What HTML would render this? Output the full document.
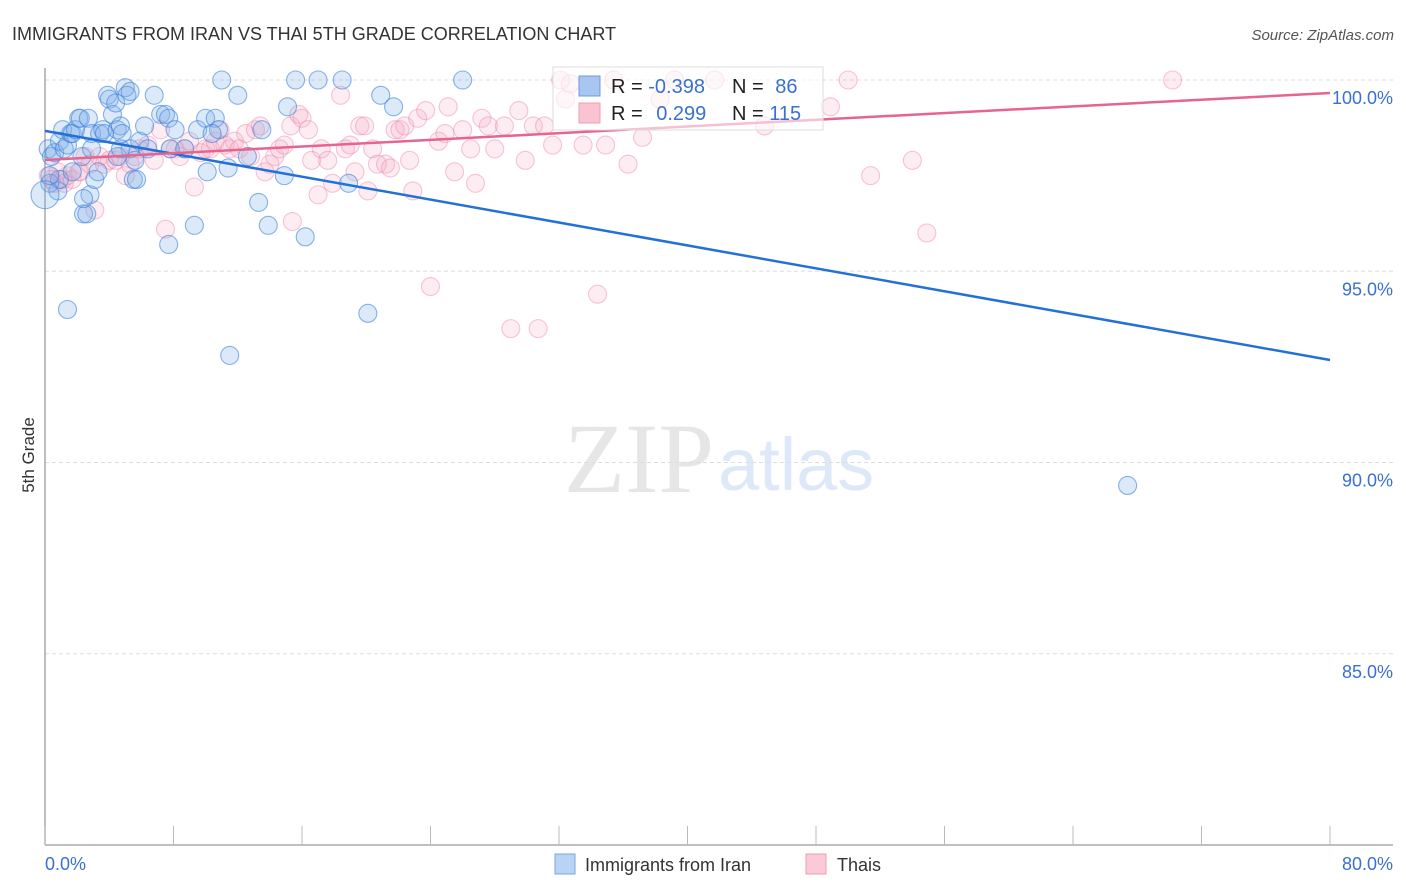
<!DOCTYPE html>
<html><head><meta charset="utf-8"><style>
body{margin:0;background:#fff;font-family:"Liberation Sans",sans-serif;}
#wrap{position:relative;width:1406px;height:892px;overflow:hidden;}
</style></head><body>
<div id="wrap">
<svg id="chart" width="1406" height="892" xmlns="http://www.w3.org/2000/svg">
<text x="12" y="40" font-size="18" fill="#333">IMMIGRANTS FROM IRAN VS THAI 5TH GRADE CORRELATION CHART</text>
<text x="1394" y="40" font-size="15" fill="#555" font-style="italic" text-anchor="end">Source: ZipAtlas.com</text>
<text x="714" y="492" font-size="100" fill="#e6e6e6" font-family="Liberation Serif,serif" text-anchor="end">ZIP</text>
<text x="718" y="490" font-size="74" fill="#dde9f8">atlas</text>
<text transform="translate(34,455) rotate(-90)" font-size="17" fill="#333" text-anchor="middle">5th Grade</text>
<g id="grid"></g><g id="axes"></g><g id="pts"></g><g id="lines"></g>
<g>
<rect x="553" y="67" width="270" height="63" fill="#fff" fill-opacity="0.6" stroke="#ddd"/>
<rect x="579" y="76" width="21" height="20" fill="#a9c6f0" stroke="#6d9be0"/>
<rect x="579" y="103" width="21" height="20" fill="#f9c3d2" stroke="#ee9fb6"/>
<text x="611" y="93" font-size="20" fill="#222">R = <tspan fill="#3a70d0">-0.398</tspan></text>
<text x="732" y="93" font-size="20" fill="#222">N = <tspan fill="#3a70d0" dx="6">86</tspan></text>
<text x="611" y="120" font-size="20" fill="#222">R = <tspan fill="#3a70d0" dx="8">0.299</tspan></text>
<text x="732" y="120" font-size="20" fill="#222">N = <tspan fill="#3a70d0">115</tspan></text>
</g>
<g>
<rect x="555" y="854" width="20" height="20" fill="#b9d3f5" stroke="#7aa5e3"/>
<text x="585" y="871" font-size="18" fill="#333">Immigrants from Iran</text>
<rect x="806" y="854" width="20" height="20" fill="#fbc9d7" stroke="#ef9fb5"/>
<text x="837" y="871" font-size="18" fill="#333">Thais</text>
</g>
</svg>
</div>
<script>
const xTickLabels=["0.0%","80.0%"];
const yTicks=[100,95,90,85];
const yTickLabels=["100.0%","95.0%","90.0%","85.0%"];
const iranX=[0.2,0.4,0.6,0.8,0.3,0.9,1.1,1.2,1.4,1.6,1.7,1.9,2.1,2.2,2.3,2.4,2.6,2.7,2.8,2.9,3.1,3.3,3.4,3.6,3.7,3.9,4.0,4.2,4.4,4.5,4.7,4.8,5.0,5.1,5.3,5.3,5.5,5.6,5.7,5.9,6.2,6.8,7.2,7.5,7.7,7.7,7.8,8.1,8.7,9.3,9.5,10.0,10.1,10.6,10.8,11.0,11.4,11.5,12.0,12.6,13.3,13.5,13.9,14.9,15.1,15.6,16.2,17.0,18.5,18.9,20.1,20.9,21.7,26.0,67.4,1.4,2.4,0.9,0.3,1.7,4.5,4.7,6.4,10.4,2.9,0.0];
const iranY=[98.2,98.0,98.1,97.1,97.3,98.4,98.7,98.2,98.3,98.6,98.6,98.7,99.0,99.0,98.0,96.5,96.5,99.0,97.0,98.6,97.4,97.6,98.6,98.7,98.6,99.6,99.5,99.1,99.4,98.7,98.8,98.6,99.8,99.6,99.7,98.2,97.4,97.9,97.4,98.4,98.8,99.6,99.1,99.1,99.0,95.7,98.2,98.7,98.2,96.2,98.7,99.0,97.6,99.0,98.7,100,97.7,92.8,99.6,98.0,96.8,98.7,96.2,97.5,99.3,100,95.9,100,100,97.3,93.9,99.6,99.3,100,89.4,94.0,96.9,97.4,97.5,97.6,98.0,98.2,98.2,98.6,98.2,97.0];
const thaiX=[0.2,0.4,0.6,0.8,1.1,1.2,1.4,1.7,2.1,2.2,2.5,2.8,3.1,3.4,3.7,4.0,4.4,4.7,5.0,5.3,5.6,5.9,6.4,6.8,7.2,7.5,7.8,8.1,8.4,8.7,9.0,9.3,9.7,10.0,10.3,10.6,10.9,11.2,11.5,11.8,12.1,12.5,12.8,13.1,13.4,13.7,14.0,14.3,14.6,14.9,15.3,15.4,15.8,16.0,16.4,16.6,17.0,17.2,17.6,17.9,18.4,18.7,19.0,19.3,19.6,19.9,20.1,20.4,20.7,21.2,21.5,21.8,22.1,22.4,22.7,22.9,23.2,23.7,24.0,24.5,24.9,25.1,25.5,26.0,26.5,26.8,27.2,27.6,28.0,28.6,29.0,29.5,29.9,30.4,30.7,31.1,31.6,32.1,32.4,32.7,33.5,34.4,34.9,35.4,36.3,37.2,38.3,39.2,41.7,44.8,48.9,50.0,51.4,54.0,54.9,70.2];
const thaiY=[97.5,97.4,97.3,97.6,97.4,97.3,97.5,97.4,97.6,97.6,98.0,97.8,96.6,98.0,97.8,97.9,97.9,98.0,97.5,97.8,98.0,98.2,98.3,97.9,98.7,96.1,98.2,98.2,98.0,98.2,98.4,97.2,98.1,98.2,98.2,98.4,98.7,98.3,98.2,98.4,98.2,98.6,98.0,98.7,98.8,97.6,97.8,98.0,98.2,98.3,98.8,96.3,99.1,99.0,98.7,97.9,97.0,98.2,97.9,97.3,99.6,98.2,98.3,97.6,98.8,98.8,97.1,98.2,97.8,97.8,97.7,98.7,98.7,98.8,97.9,97.1,99.0,99.2,94.6,98.4,98.6,99.3,97.6,98.7,98.2,97.3,99.0,98.8,98.2,98.8,93.5,99.2,97.9,98.8,93.5,98.8,98.3,100,99.5,99.9,98.3,94.4,98.3,100,97.8,98.5,99.5,100,100,98.8,99.3,100,97.5,97.9,96.0,100];
const iranTrend=[98.67,92.68];
const thaiTrend=[97.91,99.66];
const NS="http://www.w3.org/2000/svg";
const X0=45,X1=1330,Y100=80,PXPER=38.25;
function xs(v){return X0+(X1-X0)*v/80;}
function ys(v){return Y100+(100-v)*PXPER;}
function mk(tag,attrs,parent){const e=document.createElementNS(NS,tag);for(const k in attrs)e.setAttribute(k,attrs[k]);parent.appendChild(e);return e;}
const grid=document.getElementById('grid'),axes=document.getElementById('axes'),pts=document.getElementById('pts'),lines=document.getElementById('lines');
yTicks.forEach((t,i)=>{
 const l=mk('line',{x1:X0,x2:1393,y1:ys(t),y2:ys(t),stroke:'#ddd','stroke-dasharray':'4,3'},grid);
 
 
 const tx=mk('text',{x:1393,y:ys(t)+24,'font-size':18,fill:'#3a70d0','text-anchor':'end'},axes);
 tx.textContent=yTickLabels[i];
 
 
});
const ya=mk('line',{x1:X0,x2:X0,y1:68,y2:845,stroke:'#aaa','stroke-width':1.5},axes);


const xa=mk('line',{x1:X0,x2:1393,y1:845,y2:845,stroke:'#aaa','stroke-width':1.5},axes);


for(let i=0;i<=10;i++){
 const t=mk('line',{x1:xs(i*8),x2:xs(i*8),y1:826,y2:845,stroke:'#bbb'},axes);
 
 
}
[[0,'start'],[80,'end']].forEach((p,i)=>{
 const t=mk('text',{x:i?1393:45,y:870,'font-size':18,fill:'#3a70d0','text-anchor':p[1]},axes);
 t.textContent=xTickLabels[i];
 
 
});
function series(X,Y,fill,stroke,name){
 X.forEach((x,i)=>{
  const c=mk('circle',{cx:xs(x),cy:ys(Y[i]),r:(x===0?14:9),fill:fill,stroke:stroke,'stroke-width':1.1},pts);
  
  
 });
}
series(thaiX,thaiY,'rgba(248,170,195,0.22)','rgba(235,130,165,0.45)','thai-point');
series(iranX,iranY,'rgba(130,175,235,0.28)','rgba(60,130,220,0.6)','iran-point');
const bl=mk('line',{x1:xs(0),x2:xs(80),y1:ys(iranTrend[0]),y2:ys(iranTrend[1]),stroke:'#2270d8','stroke-width':2.5},lines);


const pl=mk('line',{x1:xs(0),x2:xs(80),y1:ys(thaiTrend[0]),y2:ys(thaiTrend[1]),stroke:'#e8638e','stroke-width':2.5},lines);


</script>
</body></html>
